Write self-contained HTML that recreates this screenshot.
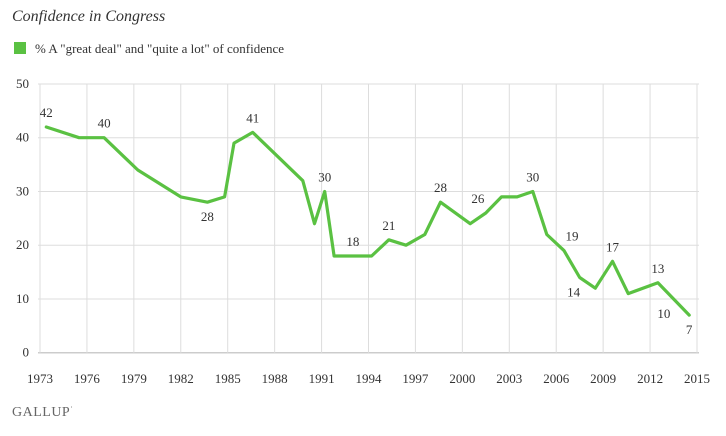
<!DOCTYPE html>
<html><head><meta charset="utf-8"><style>
body{margin:0;background:#fff;width:726px;height:431px;overflow:hidden;font-family:"Liberation Serif",serif;}
</style></head><body>
<svg width="726" height="431" xmlns="http://www.w3.org/2000/svg">
<text x="12" y="21" font-size="16" font-style="italic" fill="#333">Confidence in Congress</text>
<rect x="14" y="42" width="12" height="12" fill="#5ac142"/>
<text x="35" y="53" font-size="13" fill="#333">% A "great deal" and "quite a lot" of confidence</text>
<g id="grid"></g><g id="line"></g><g id="labels"></g>
<text x="12" y="416" font-size="14" fill="#666" letter-spacing="0.5">GALLUP<tspan font-size="8" dy="-6">·</tspan></text>
</svg>
<script>
const years=[1973.4,1975.5,1977.1,1979.25,1982,1983.7,1984.8,1985.4,1986.6,1989.8,1990.55,1991.2,1991.8,1993,1994.2,1995.3,1996.4,1997.6,1998.6,2000.5,2001.5,2002.5,2003.5,2004.5,2005.4,2006.5,2007.5,2008.5,2009.6,2010.6,2012.5,2014.5];
const values=[42,40,40,34,29,28,29,39,41,32,24,30,18,18,18,21,20,22,28,24,26,29,29,30,22,19,14,12,17,11,13,7];
const labelIdx=[0,2,5,8,11,13,15,18,20,23,25,26,28,30,30,31];
const labelText=["42","40","28","41","30","18","21","28","26","30","19","14","17","13","10","7"];
const labelBelow=[0,0,1,0,0,0,0,0,0,0,0,1,0,0,1,1];
const labelShift=[0,0,0,0,0,0,0,0,-8,0,8,-6,0,0,6,0];
const xTicks=[1973,1976,1979,1982,1985,1988,1991,1994,1997,2000,2003,2006,2009,2012,2015];
const yTicks=[0,10,20,30,40,50];
const NS="http://www.w3.org/2000/svg";
const X=y=>40+(y-1973)*(697-40)/42;
const Y=v=>352.7-v*(352.7-84)/50;
function mk(t,a,p){const e=document.createElementNS(NS,t);for(const k in a)e.setAttribute(k,a[k]);p.appendChild(e);return e;}
const g=document.getElementById('grid');
yTicks.forEach(v=>{
 const l=mk('line',{x1:38,x2:699,y1:Y(v),y2:Y(v),stroke:v===0?'#ccc':'#ddd','stroke-width':v===0?1.5:1},g);
 
 
 const t=mk('text',{x:29,y:Y(v)+4,'text-anchor':'end','font-size':13,fill:'#333'},g);t.textContent=v;
 
 
});
xTicks.forEach(yr=>{
 const l=mk('line',{x1:X(yr),x2:X(yr),y1:84,y2:352.7,stroke:'#ddd','stroke-width':1},g);
 
 
 const t=mk('text',{x:X(yr),y:383,'text-anchor':'middle','font-size':13,fill:'#333'},g);t.textContent=yr;
 
 
});
const pts=years.map((y,i)=>X(y).toFixed(1)+','+Y(values[i]).toFixed(1)).join(' ');
const pl=mk('polyline',{points:pts,fill:'none',stroke:'#5ac142','stroke-width':3.2,'stroke-linejoin':'round','stroke-linecap':'round'},document.getElementById('line'));


const lg=document.getElementById('labels');
labelIdx.forEach((idx,i)=>{
 const px=X(years[idx]),py=Y(values[idx]);
 let ty=labelBelow[i]?py+19:py-10;
 if(labelText[i]==="10")ty=py+35;
 const t=mk('text',{x:px+labelShift[i],y:ty,'text-anchor':'middle','font-size':13,fill:'#333'},lg);
 t.textContent=labelText[i];
 
 
});
</script>
</body></html>
